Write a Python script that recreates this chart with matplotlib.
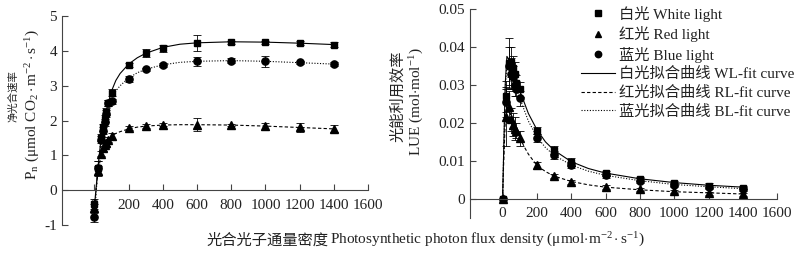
import matplotlib
matplotlib.use("Agg")
import matplotlib.pyplot as plt
from matplotlib.lines import Line2D

plt.rcParams['font.family'] = ['Liberation Serif', 'Noto Sans CJK SC', 'DejaVu Sans']
plt.rcParams['mathtext.fontset'] = 'custom'
plt.rcParams['mathtext.rm'] = 'Liberation Serif'
plt.rcParams['mathtext.it'] = 'Liberation Serif:italic'
plt.rcParams['axes.unicode_minus'] = False

# ---------------- data ----------------
ppfd = [0, 20, 40, 50, 60, 70, 80, 100, 200, 300, 400, 600, 800, 1000, 1200, 1400]

pn_white = [-0.4, 0.65, 1.5, 1.8, 2.05, 2.25, 2.5, 2.8, 3.6, 3.93, 4.08, 4.22, 4.25, 4.25, 4.22, 4.18]
pn_white_err = [0.15, 0.2, 0.1, 0.1, 0.1, 0.1, 0.08, 0.1, 0.05, 0.12, 0.1, 0.23, 0.04, 0.04, 0.05, 0.08]
pn_red = [-0.52, 0.55, 1.05, 1.2, 1.3, 1.35, 1.45, 1.55, 1.78, 1.85, 1.88, 1.88, 1.87, 1.83, 1.8, 1.76]
pn_red_err = [0.12, 0.15, 0.08, 0.08, 0.08, 0.08, 0.08, 0.1, 0.05, 0.06, 0.05, 0.18, 0.04, 0.1, 0.12, 0.1]
pn_blue = [-0.77, 0.65, 1.45, 1.7, 1.95, 2.2, 2.5, 2.55, 3.2, 3.47, 3.6, 3.7, 3.72, 3.7, 3.67, 3.62]
pn_blue_err = [0.15, 0.2, 0.1, 0.1, 0.1, 0.1, 0.08, 0.08, 0.08, 0.05, 0.05, 0.13, 0.08, 0.15, 0.05, 0.06]

lue_white = [0, 0.027, 0.0358, 0.036, 0.0345, 0.033, 0.0305, 0.0288, 0.018, 0.0128, 0.0097, 0.0067, 0.0053, 0.0041, 0.0035, 0.003]
lue_white_err = [0, 0.004, 0.0066, 0.004, 0.003, 0.003, 0.002, 0.002, 0.001, 0.001, 0.001, 0.0007, 0.0006, 0.0006, 0.0006, 0.0005]
lue_red = [0, 0.0215, 0.0243, 0.021, 0.0195, 0.0185, 0.018, 0.016, 0.0088, 0.006, 0.0045, 0.0032, 0.0025, 0.002, 0.0015, 0.0012]
lue_red_err = [0, 0.0075, 0.004, 0.003, 0.003, 0.003, 0.002, 0.002, 0.0008, 0.0006, 0.0005, 0.0005, 0.0004, 0.0004, 0.0004, 0.0003]
lue_blue = [0, 0.0255, 0.035, 0.033, 0.032, 0.030, 0.029, 0.0265, 0.016, 0.0115, 0.009, 0.0062, 0.0048, 0.0037, 0.0032, 0.0027]
lue_blue_err = [0, 0.004, 0.005, 0.004, 0.003, 0.003, 0.002, 0.002, 0.001, 0.001, 0.0008, 0.0007, 0.0006, 0.0006, 0.0005, 0.0005]

# fitted curves
pn_fit_x = [0, 10, 20, 40, 60, 80, 100, 125, 150, 200, 250, 300, 400, 500, 600, 800, 1000, 1200, 1400]
pn_fit_white = [-0.45, 0.1, 0.65, 1.55, 2.1, 2.5, 2.85, 3.15, 3.35, 3.62, 3.8, 3.93, 4.1, 4.19, 4.23, 4.26, 4.25, 4.22, 4.18]
pn_fit_red = [-0.5, 0.05, 0.5, 1.05, 1.3, 1.45, 1.55, 1.63, 1.68, 1.76, 1.81, 1.84, 1.87, 1.88, 1.88, 1.87, 1.84, 1.8, 1.76]
pn_fit_blue = [-0.7, -0.05, 0.6, 1.45, 1.95, 2.3, 2.6, 2.85, 3.0, 3.22, 3.37, 3.47, 3.6, 3.67, 3.7, 3.72, 3.7, 3.66, 3.62]

lue_fit_x = [0, 5, 15, 25, 40, 60, 80, 100, 125, 150, 200, 250, 300, 400, 500, 600, 800, 1000, 1200, 1400]
lue_fit_white = [0, 0.01, 0.03, 0.0375, 0.0365, 0.034, 0.031, 0.0285, 0.0255, 0.0225, 0.0182, 0.015, 0.0128, 0.0098, 0.008, 0.0068, 0.0053, 0.0043, 0.0036, 0.0031]
lue_fit_red = [0, 0.008, 0.02, 0.0245, 0.023, 0.0205, 0.0185, 0.0162, 0.0138, 0.0118, 0.0088, 0.0072, 0.006, 0.0046, 0.0037, 0.0031, 0.0024, 0.0019, 0.0016, 0.0013]
lue_fit_blue = [0, 0.01, 0.028, 0.036, 0.035, 0.032, 0.029, 0.0265, 0.0235, 0.0205, 0.0163, 0.0135, 0.0115, 0.0089, 0.0073, 0.0062, 0.0048, 0.0038, 0.0032, 0.0027]

x_ticks = [0, 200, 400, 600, 800, 1000, 1200, 1400, 1600]
pn_ticks = [-1, 0, 1, 2, 3, 4, 5]
lue_ticks = [0, 0.01, 0.02, 0.03, 0.04, 0.05]
lue_ticklabels = ['0', '0.01', '0.02', '0.03', '0.04', '0.05']

legend_labels = ['白光 White light', '红光 Red light', '蓝光 Blue light',
                 '白光拟合曲线 WL-fit curve', '红光拟合曲线 RL-fit curve', '蓝光拟合曲线 BL-fit curve']

# ---------------- figure ----------------
fig = plt.figure(figsize=(8.0, 2.54), dpi=100)
ax1 = fig.add_axes([0.0775, 0.114, 0.3825, 0.823])
ax2 = fig.add_axes([0.5875, 0.142, 0.384, 0.823])

FS = 11
lw = 0.8
ms = 4.8
ebkw = dict(ecolor='black', elinewidth=0.6, capsize=3, capthick=0.6, linestyle='none')
TXT = '#222222'


def style(ax, ylim, yticks, yticklabels=None):
    ax.set_xlim(-190, 1600)
    ax.set_ylim(*ylim)
    for s in ['top', 'right']:
        ax.spines[s].set_visible(False)
    ax.spines['bottom'].set_position(('data', 0))
    for s in ['left', 'bottom']:
        ax.spines[s].set_linewidth(0.8)
        ax.spines[s].set_color('#444444')
    ax.set_xticks(x_ticks)
    ax.set_yticks(yticks)
    if yticklabels is not None:
        ax.set_yticklabels(yticklabels)
    ax.tick_params(axis='both', direction='in', length=4, width=0.8, labelsize=FS,
                   color='#444444', labelcolor=TXT)
    ax.tick_params(axis='x', pad=6)
    ax.patch.set_visible(False)


# left panel
ax1.plot(pn_fit_x, pn_fit_white, color='black', lw=lw, ls='-')
ax1.plot(pn_fit_x, pn_fit_red, color='black', lw=lw, ls=(0, (3, 2)))
ax1.plot(pn_fit_x, pn_fit_blue, color='black', lw=lw, ls=(0, (1, 1.5)))
ax1.errorbar(ppfd, pn_white, yerr=pn_white_err, marker='s', ms=ms, mfc='black', mec='black', **ebkw)
ax1.errorbar(ppfd, pn_red, yerr=pn_red_err, marker='^', ms=ms + 0.6, mfc='black', mec='black', **ebkw)
ax1.errorbar(ppfd, pn_blue, yerr=pn_blue_err, marker='o', ms=ms + 0.4, mfc='black', mec='black', **ebkw)
style(ax1, (-1, 5), pn_ticks)

# right panel
ax2.plot(lue_fit_x, lue_fit_white, color='black', lw=lw, ls='-')
ax2.plot(lue_fit_x, lue_fit_red, color='black', lw=lw, ls=(0, (3, 2)))
ax2.plot(lue_fit_x, lue_fit_blue, color='black', lw=lw, ls=(0, (1, 1.5)))
ax2.errorbar(ppfd, lue_white, yerr=lue_white_err, marker='s', ms=ms, mfc='black', mec='black', **ebkw)
ax2.errorbar(ppfd, lue_red, yerr=lue_red_err, marker='^', ms=ms + 0.6, mfc='black', mec='black', **ebkw)
ax2.errorbar(ppfd, lue_blue, yerr=lue_blue_err, marker='o', ms=ms + 0.4, mfc='black', mec='black', **ebkw)
style(ax2, (-0.005, 0.05), lue_ticks, lue_ticklabels)

# legend
handles = [
    Line2D([], [], ls='none', marker='s', ms=ms - 0.5, color='black'),
    Line2D([], [], ls='none', marker='^', ms=ms, color='black'),
    Line2D([], [], ls='none', marker='o', ms=ms - 0.2, color='black'),
    Line2D([], [], ls='-', lw=lw, color='black'),
    Line2D([], [], ls=(0, (3, 2)), lw=lw, color='black'),
    Line2D([], [], ls=(0, (1, 1.5)), lw=lw, color='black'),
]
leg = fig.legend(handles, legend_labels, loc='upper left', bbox_to_anchor=(0.713, 1.02),
                 frameon=False, fontsize=11, handlelength=2.2, handletextpad=0.28,
                 labelspacing=0.3, borderpad=0.2)
for t in leg.get_texts():
    t.set_color(TXT)

# axis labels
fig.text(0.258, 0.055, '光合光子通量密度', ha='left', va='center', fontsize=FS,
         family=['Noto Sans CJK SC'], color=TXT)
fig.text(0.412, 0.055, r'Photosynthetic photon flux density ($\mathrm{\mu}$mol$\cdot$m$^{-2}\cdot$s$^{-1}$)',
         ha='left', va='center', fontsize=FS, color=TXT)

fig.text(0.016, 0.62, '净光合速率', rotation=90, ha='center', va='center', fontsize=7.5,
         family=['Noto Sans CJK SC'], color=TXT)
fig.text(0.041, 0.59, r'P$_\mathrm{n}$ ($\mathrm{\mu}$mol CO$_2\cdot$m$^{-2}\cdot$s$^{-1}$)', rotation=90,
         ha='center', va='center', fontsize=FS, color=TXT)
fig.text(0.497, 0.62, '光能利用效率', rotation=90, ha='center', va='center', fontsize=FS,
         family=['Noto Sans CJK SC'], color=TXT)
fig.text(0.521, 0.60, r'LUE (mol$\cdot$mol$^{-1}$)', rotation=90,
         ha='center', va='center', fontsize=FS, color=TXT)

fig.savefig('out.png', dpi=100)
